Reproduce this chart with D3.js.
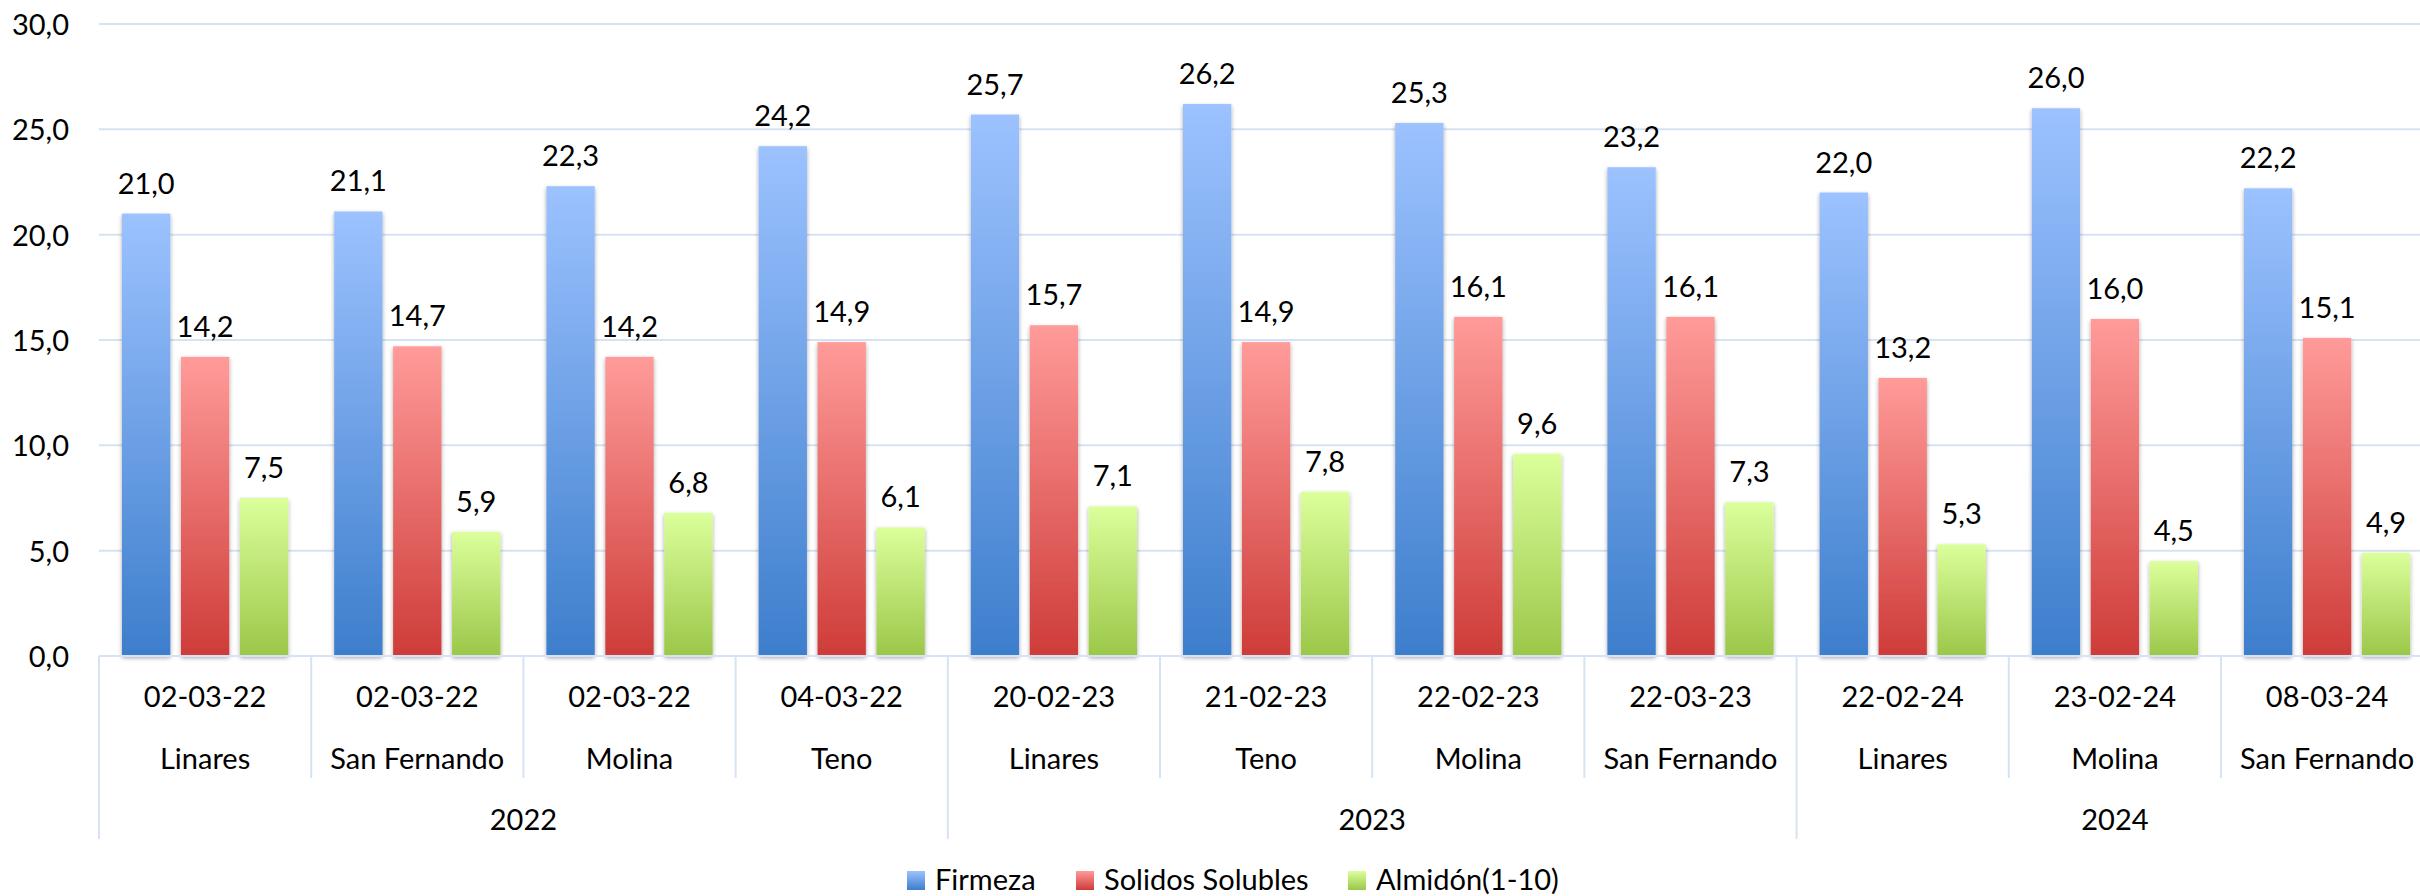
<!DOCTYPE html>
<html><head><meta charset="utf-8">
<script src="https://cdn.jsdelivr.net/npm/d3@7"></script>
<style>html,body{margin:0;padding:0;background:#fff;overflow:hidden}svg{display:block}text{font-family:Lato,"Open Sans",sans-serif;fill:#000}</style>
</head><body><svg id="c" width="2420" height="896"></svg>
<script>
const dates = ["02-03-22","02-03-22","02-03-22","04-03-22","20-02-23","21-02-23","22-02-23","22-03-23","22-02-24","23-02-24","08-03-24"];
const places = ["Linares","San Fernando","Molina","Teno","Linares","Teno","Molina","San Fernando","Linares","Molina","San Fernando"];
const years = ["2022","2022","2022","2022","2023","2023","2023","2023","2024","2024","2024"];
const seriesNames = ["Firmeza","Solidos Solubles","Almidón(1-10)"];
const firmeza = [21.0,21.1,22.3,24.2,25.7,26.2,25.3,23.2,22.0,26.0,22.2];
const solidos = [14.2,14.7,14.2,14.9,15.7,14.9,16.1,16.1,13.2,16.0,15.1];
const almidon = [7.5,5.9,6.8,6.1,7.1,7.8,9.6,7.3,5.3,4.5,4.9];
const yTicks = [0,5,10,15,20,25,30];

(function(){
const series = [firmeza, solidos, almidon];
const grads = [["#9CC2FF","#3D7ECC"],["#FF9B99","#CE3C39"],["#DBFF9B","#9BC749"]];
const gridColor = "#D6E3F4";

const svg = d3.select("#c");
const defs = svg.append("defs");
grads.forEach((g,i)=>{
  const lg = defs.append("linearGradient").attr("id","g"+i).attr("x1",0).attr("y1",0).attr("x2",0).attr("y2",1);
  lg.append("stop").attr("offset","0%").attr("stop-color",g[0]);
  lg.append("stop").attr("offset","100%").attr("stop-color",g[1]);
});
const f = defs.append("filter").attr("id","sh").attr("x","-30%").attr("y","-10%").attr("width","160%").attr("height","130%");
f.append("feDropShadow").attr("dx",0).attr("dy",2).attr("stdDeviation",2.2).attr("flood-color","#000").attr("flood-opacity",0.35);

const left = 99, catW = 212.2, plotTop = 24, base = 656;
const idx = d3.range(dates.length);
const x0 = d3.scaleBand().domain(idx).range([left, left + catW*idx.length]).paddingInner(0).paddingOuter(0);
const x1 = d3.scaleBand().domain([0,1,2]).range([23, x0.bandwidth()-23]).paddingInner(0.18).paddingOuter(0);
const y = d3.scaleLinear().domain([0,30]).range([base, plotTop]);

svg.append("g").selectAll("line").data(yTicks.filter(t=>t>0)).join("line")
  .attr("x1",left).attr("x2",2420).attr("y1",d=>y(d)).attr("y2",d=>y(d))
  .attr("stroke",gridColor).attr("stroke-width",2);

const yAxis = d3.axisLeft(y).tickValues(yTicks).tickSize(0).tickPadding(0)
  .tickFormat(d=>d3.format(".1f")(d).replace(".",","));
const ya = svg.append("g").attr("transform",`translate(69,0)`).call(yAxis);
ya.select(".domain").remove();
ya.selectAll("text").attr("font-size",29).attr("font-family","Lato").attr("fill","#000").attr("dy","0.36em");

const gBars = svg.append("g");
idx.forEach(i=>{
  series.forEach((s,j)=>{
    gBars.append("rect")
      .attr("x", x0(i)+x1(j)).attr("width", x1.bandwidth())
      .attr("y", y(s[i])).attr("height", base - y(s[i]))
      .attr("fill", `url(#g${j})`).attr("filter","url(#sh)");
  });
});
const gLab = svg.append("g");
idx.forEach(i=>{
  series.forEach((s,j)=>{
    gLab.append("text")
      .attr("x", x0(i)+x1(j)+x1.bandwidth()/2).attr("y", y(s[i]) - 20)
      .attr("text-anchor","middle").attr("font-size",29)
      .text(d3.format(".1f")(s[i]).replace(".",","));
  });
});

const ax = svg.append("g");
ax.append("line").attr("x1",left).attr("x2",2420).attr("y1",base).attr("y2",base).attr("stroke",gridColor).attr("stroke-width",2);
idx.forEach(i=>{
  const isYearStart = i===0 || years[i]!==years[i-1];
  ax.append("line").attr("x1",x0(i)).attr("x2",x0(i)).attr("y1",base).attr("y2", isYearStart?839:778)
    .attr("stroke",gridColor).attr("stroke-width",2);
  const cx = x0(i)+x0.bandwidth()/2;
  ax.append("text").attr("x",cx).attr("y",697).attr("dy","0.36em").attr("text-anchor","middle").attr("font-size",29).text(dates[i]);
  ax.append("text").attr("x",cx).attr("y",759).attr("dy","0.36em").attr("text-anchor","middle").attr("font-size",29).text(places[i]);
});
const yearGroups = d3.groups(idx, i=>years[i]);
yearGroups.forEach(([yr, arr])=>{
  const cx = (x0(arr[0]) + x0(arr[arr.length-1]) + x0.bandwidth())/2;
  ax.append("text").attr("x",cx).attr("y",820).attr("dy","0.36em").attr("text-anchor","middle").attr("font-size",29).text(yr);
});

const legX = [907, 1076, 1348];
const lg = svg.append("g");
seriesNames.forEach((n,j)=>{
  lg.append("rect").attr("x",legX[j]).attr("y",871).attr("width",18).attr("height",19).attr("fill",`url(#g${j})`);
  lg.append("text").attr("x",legX[j]+28).attr("y",880).attr("dy","0.36em").attr("font-size",29).text(n);
});
})();
</script></body></html>
